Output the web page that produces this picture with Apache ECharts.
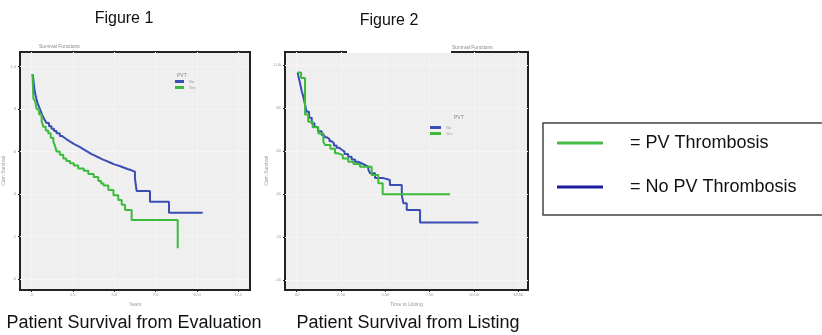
<!DOCTYPE html>
<html>
<head>
<meta charset="utf-8">
<script src="https://cdn.jsdelivr.net/npm/echarts@6/dist/echarts.min.js"></script>
<style>
    html, body { margin: 0; padding: 0; background: #fff; }
    #chartWrap { width: 822px; height: 335px; }
</style>
</head>
<body>
<div id="chartWrap"></div>
<script>
// Figure 1: survival from evaluation, [years, cum survival], KM steps
const evalNoPv = [[0.05, 0.965], [0.1, 0.94], [0.13, 0.92], [0.17, 0.89], [0.22, 0.87], [0.28, 0.85],
    [0.35, 0.83], [0.42, 0.815], [0.5, 0.80], [0.6, 0.78], [0.7, 0.762], [0.8, 0.747], [0.9, 0.735],
    [1.05, 0.72], [1.2, 0.708], [1.35, 0.697], [1.5, 0.686], [1.7, 0.673], [1.85, 0.664], [2.0, 0.656],
    [2.15, 0.648], [2.3, 0.641], [2.45, 0.634], [2.6, 0.628], [2.75, 0.622], [2.9, 0.615],
    [3.05, 0.608], [3.2, 0.601], [3.35, 0.594], [3.5, 0.587], [3.65, 0.582], [3.8, 0.576],
    [3.95, 0.571], [4.1, 0.565], [4.25, 0.56], [4.4, 0.555], [4.55, 0.55], [4.7, 0.545],
    [4.85, 0.54], [5.0, 0.535], [5.2, 0.53], [5.4, 0.524], [5.6, 0.518], [5.8, 0.512], [6.05, 0.505],
    [6.25, 0.475], [6.3, 0.445], [6.35, 0.415], [7.16, 0.364], [8.31, 0.312], [10.35, 0.312]];
const evalPv = [[0.05, 0.965], [0.1, 0.85], [0.2, 0.84], [0.3, 0.80], [0.45, 0.775], [0.6, 0.745],
    [0.7, 0.717], [0.85, 0.70], [1.0, 0.686], [1.15, 0.665], [1.31, 0.647], [1.42, 0.625], [1.51, 0.60],
    [1.7, 0.585], [1.91, 0.568], [2.1, 0.556], [2.32, 0.545], [2.55, 0.535], [2.82, 0.52],
    [3.15, 0.51], [3.43, 0.495], [3.75, 0.48], [4.03, 0.462], [4.2, 0.45], [4.35, 0.44],
    [4.64, 0.419], [4.95, 0.395], [5.24, 0.372], [5.45, 0.35], [5.65, 0.325], [6.05, 0.278],
    [8.84, 0.145]];

// Figure 2: survival from listing
const listNoPv = [[0.05, 0.965], [0.12, 0.94], [0.19, 0.915], [0.28, 0.88], [0.37, 0.853], [0.46, 0.82],
    [0.56, 0.783], [0.7, 0.755], [0.85, 0.729], [1.0, 0.712], [1.2, 0.692], [1.41, 0.674], [1.55, 0.664],
    [1.7, 0.655], [1.85, 0.645], [1.98, 0.636], [2.1, 0.626], [2.25, 0.615], [2.4, 0.606], [2.54, 0.597],
    [2.7, 0.586], [2.9, 0.573], [3.1, 0.56], [3.29, 0.55], [3.45, 0.543], [3.65, 0.535], [3.85, 0.527],
    [4.04, 0.515], [4.14, 0.496], [4.42, 0.474], [4.9, 0.465], [5.26, 0.442], [5.93, 0.395],
    [6.02, 0.357], [6.21, 0.326], [6.96, 0.267], [10.25, 0.267]];
const listPv = [[0.05, 0.965], [0.25, 0.94], [0.47, 0.77], [0.65, 0.736], [0.9, 0.71], [1.22, 0.682],
    [1.5, 0.643], [1.6, 0.628], [1.9, 0.61], [2.16, 0.589], [2.35, 0.581], [2.6, 0.565], [2.91, 0.55],
    [3.2, 0.54], [3.57, 0.527], [4.23, 0.488], [4.6, 0.45], [4.85, 0.399], [8.65, 0.399]];

const xTicks = [0, 2.5, 5, 7.5, 10, 12.5];
const yTicks = [0, 0.2, 0.4, 0.6, 0.8, 1.0];
const evalXLabels = ['.0', '2.5', '5.0', '7.5', '10.0', '12.5'];
const evalYLabels = ['.0', '.2', '.4', '.6', '.8', '1.0'];
const listXLabels = ['.00', '2.50', '5.00', '7.50', '10.00', '12.50'];
const listYLabels = ['.00', '.20', '.40', '.60', '.80', '1.00'];

const blue = '#3a4db5';
const green = '#3cba3c';
const font = "'Liberation Sans', Arial, sans-serif";

function labelFor(v, ticks, labels) {
    const i = ticks.findIndex(function (t) { return Math.abs(t - v) < 1e-6; });
    return i < 0 ? '' : labels[i];
}

function xAxisFor(gridIndex, min, max, labels, name) {
    return {
        type: 'value', gridIndex: gridIndex, min: min, max: max,
        name: name, nameLocation: 'middle', nameGap: 12,
        nameTextStyle: {fontSize: 5, color: '#999', fontFamily: font},
        axisLine: {show: false, onZero: false},
        axisTick: {show: true, customValues: xTicks, length: 2, lineStyle: {color: '#222'}},
        axisLabel: {
            customValues: xTicks, fontSize: 4, color: '#999', margin: 3, fontFamily: font,
            formatter: function (v) { return labelFor(v, xTicks, labels); }
        },
        splitLine: {show: true, lineStyle: {color: '#fafafa', type: 'dotted'}}
    };
}

function yAxisFor(gridIndex, min, max, labels, gap) {
    return {
        type: 'value', gridIndex: gridIndex, min: min, max: max,
        name: 'Cum Survival', nameLocation: 'middle', nameGap: gap,
        nameTextStyle: {fontSize: 5, color: '#999', fontFamily: font},
        axisLine: {show: false, onZero: false},
        axisTick: {show: true, customValues: yTicks, length: 2, lineStyle: {color: '#222'}},
        axisLabel: {
            customValues: yTicks, fontSize: 4, color: '#999', margin: 4, fontFamily: font,
            formatter: function (v) { return labelFor(v, yTicks, labels); }
        },
        splitLine: {show: true, lineStyle: {color: '#fafafa', type: 'dotted'}}
    };
}

function kmSeries(name, idx, data, color) {
    return {
        type: 'line', name: name, xAxisIndex: idx, yAxisIndex: idx,
        data: data, step: 'end', symbol: 'none', showSymbol: false,
        lineStyle: {color: color, width: 2}, itemStyle: {color: color}
    };
}

function miniLegend(left, top, width) {
    return {
        data: ['No PV Thrombosis', 'PV Thrombosis'], left: left, top: top, orient: 'vertical',
        padding: 0, itemWidth: width, itemHeight: 3, itemGap: 2, icon: 'rect',
        textStyle: {fontSize: 4, color: '#999', fontFamily: font},
        formatter: function (n) { return n === 'PV Thrombosis' ? 'Yes' : 'No'; }
    };
}

function smallText(x, y, text) {
    return {type: 'text', x: x, y: y, z: 100,
        style: {text: text, fontSize: 5, fill: '#888', font: '5px ' + font, verticalAlign: 'middle'}};
}

function bigText(x, y, text, size) {
    return {type: 'text', x: x, y: y, z: 100,
        style: {text: text, fill: '#111', font: size + 'px ' + font, align: 'center', verticalAlign: 'middle'}};
}

const myChart = echarts.init(document.getElementById('chartWrap'));

myChart.setOption({
    animation: false,
    grid: [
        {left: 20, top: 52, width: 230, height: 238, show: true, backgroundColor: '#efefef',
            borderColor: '#222', borderWidth: 2},
        {left: 285, top: 52, width: 243, height: 238, show: true, backgroundColor: '#efefef',
            borderColor: '#222', borderWidth: 2}
    ],
    xAxis: [
        xAxisFor(0, -0.708, 13.214, evalXLabels, 'Years'),
        xAxisFor(1, -0.66, 13.05, listXLabels, 'Time to Listing')
    ],
    yAxis: [
        yAxisFor(0, -0.0518, 1.0692, evalYLabels, 13),
        yAxisFor(1, -0.0465, 1.0605, listYLabels, 16)
    ],
    legend: [
        miniLegend(175, 79.5, 9),
        miniLegend(430, 125.5, 11),
        {
            data: [{name: 'PV Thrombosis', itemStyle: {color: '#44bb44'}},
                {name: 'No PV Thrombosis', itemStyle: {color: '#1c1c9c'}}],
            left: 557, top: 134, orient: 'vertical', padding: 0, z: 120,
            itemWidth: 46, itemHeight: 3, itemGap: 26, icon: 'rect',
            textStyle: {fontSize: 18, color: '#111', fontFamily: font, padding: [0, 0, 0, 22]},
            formatter: function (n) { return '= ' + n; }
        }
    ],
    series: [
        kmSeries('No PV Thrombosis', 0, evalNoPv, blue),
        kmSeries('PV Thrombosis', 0, evalPv, green),
        kmSeries('No PV Thrombosis', 1, listNoPv, blue),
        kmSeries('PV Thrombosis', 1, listPv, green)
    ],
    graphic: [
        // white gap in the top border of figure 2
        {type: 'rect', z: 100, shape: {x: 347, y: 48, width: 104, height: 5}, style: {fill: '#fff'}},
        // legend box (drawn under the legend)
        {type: 'rect', z: -1, shape: {x: 543, y: 123, width: 285, height: 92},
            style: {fill: '#fff', stroke: '#444', lineWidth: 1.5}},
        bigText(124, 19, 'Figure 1', 16),
        bigText(389, 21, 'Figure 2', 16),
        bigText(134, 323, 'Patient Survival from Evaluation', 18),
        bigText(408, 323, 'Patient Survival from Listing', 18),
        smallText(39, 47, 'Survival Functions'),
        smallText(452, 48, 'Survival Functions'),
        smallText(177, 76, 'PVT'),
        smallText(454, 118, 'PVT')
    ]
});
</script>
</body>
</html>
